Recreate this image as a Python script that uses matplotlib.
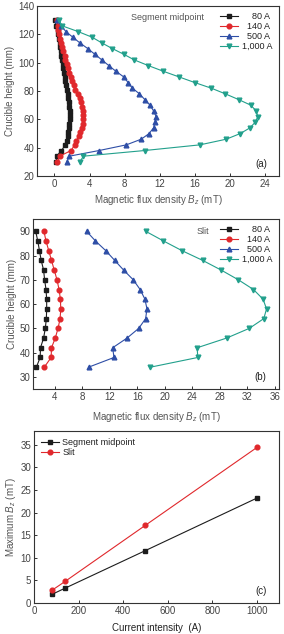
import numpy as np
import matplotlib
matplotlib.use("Agg")
from matplotlib import pyplot as plt

plt.rcParams['font.family'] = ['Liberation Sans', 'DejaVu Sans']
plt.rcParams['font.size'] = 7
plt.rcParams['mathtext.fontset'] = 'custom'
plt.rcParams['mathtext.it'] = 'Liberation Sans:italic'
plt.rcParams['mathtext.rm'] = 'Liberation Sans'

# ---- data ----
# figure spaces (U+2007) pad the short labels so they line up on the right
labels = ["\u2007\u200780 A", "\u2007140 A", "\u2007500 A", "1,000 A"]

# (a) segment midpoint
h_a_fine = [30, 34, 38, 42, 45, 48, 51, 54, 57, 60, 63, 66, 69, 72, 75, 78, 81,
            84, 87, 90, 93, 96, 99, 102, 105, 108, 111, 114, 117, 120, 123, 126, 130]
a_80 = [0.2, 0.25, 0.8, 1.25, 1.4, 1.5, 1.6, 1.65, 1.7, 1.75, 1.75, 1.75, 1.7, 1.65,
        1.55, 1.5, 1.4, 1.3, 1.25, 1.15, 1.1, 1.0, 0.95, 0.85, 0.8, 0.7, 0.65, 0.6,
        0.5, 0.45, 0.35, 0.2, 0.05]
a_140 = [0.3, 0.6, 1.9, 2.3, 2.5, 2.75, 2.95, 3.1, 3.2, 3.25, 3.25, 3.25, 3.15, 3.05,
         2.95, 2.7, 2.4, 2.2, 2.0, 1.85, 1.7, 1.55, 1.4, 1.25, 1.15, 1.0, 0.9, 0.8,
         0.65, 0.55, 0.45, 0.35, 0.3]
h_a_coarse = [30, 34, 38, 42, 46, 50, 54, 58, 62, 66, 70, 74, 78, 82, 86, 90, 94,
              98, 102, 106, 110, 114, 118, 122, 126, 130]
a_500 = [1.4, 1.7, 5.1, 8.2, 9.9, 10.8, 11.3, 11.5, 11.6, 11.3, 10.9, 10.3, 9.7, 8.9,
         8.4, 7.9, 7.0, 6.2, 5.4, 4.6, 3.8, 2.9, 2.1, 1.3, 0.8, 0.3]
a_1000 = [2.9, 3.3, 10.3, 16.6, 19.6, 21.2, 22.3, 22.9, 23.2, 23.0, 22.4, 21.0, 19.5,
          17.9, 16.0, 14.2, 12.4, 10.7, 9.1, 7.9, 6.6, 5.4, 4.3, 2.7, 0.9, 0.5]

# (b) slit
h_b = [34, 38, 42, 46, 50, 54, 58, 62, 66, 70, 74, 78, 82, 86, 90]
b_80 = [1.3, 1.85, 1.9, 2.35, 2.6, 2.75, 2.8, 2.8, 2.7, 2.5, 2.35, 2.0, 1.75, 1.5, 1.2]
b_140 = [2.45, 3.45, 3.5, 4.05, 4.45, 4.75, 4.85, 4.8, 4.6, 4.3, 3.9, 3.5, 3.1, 2.7, 2.4]
b_500 = [8.9, 12.6, 12.4, 14.5, 16.2, 17.2, 17.4, 17.1, 16.4, 15.4, 14.0, 12.7, 11.4, 9.9, 8.6]
b_1000 = [17.9, 24.8, 24.7, 29.0, 32.3, 34.4, 34.8, 34.3, 32.9, 30.7, 28.2, 25.5, 22.5, 19.8, 17.2]

# (c) maximum Bz
current = [80, 140, 500, 1000]
max_mid = [1.9, 3.3, 11.6, 23.2]
max_slit = [2.8, 4.8, 17.2, 34.4]

colors = ['#1c1c1c', '#e0282c', '#2e4ea6', '#22a08c']
markers = ['s', 'o', '^', 'v']
grey = '#555555'

fig = plt.figure(figsize=(2.84, 6.34), dpi=100)
ax_a = fig.add_axes([0.130, 0.7224, 0.852, 0.268])
ax_b = fig.add_axes([0.116, 0.3864, 0.866, 0.268])
ax_c = fig.add_axes([0.120, 0.0489, 0.863, 0.271])


def style(ax):
    for s in ax.spines.values():
        s.set_color('#333333')
        s.set_linewidth(0.8)
    ax.tick_params(direction='in', length=2.5, width=0.7, colors='#333333',
                   labelcolor='#444444', labelsize=7, pad=2)


# panel a
series_a = [(h_a_fine, a_80), (h_a_fine, a_140), (h_a_coarse, a_500), (h_a_coarse, a_1000)]
for (hh, vv), c, m, lab in zip(series_a, colors, markers, labels):
    ax_a.plot(vv, hh, color=c, marker=m, markersize=3.4, linewidth=0.8, label=lab)
ax_a.set_xlim(-2, 25.6)
ax_a.set_ylim(20, 140)
ax_a.set_xticks(np.arange(0, 25, 4))
ax_a.set_yticks(np.arange(20, 141, 20))
ax_a.set_xlabel(r'Magnetic flux density $B_z$ (mT)', color=grey, fontsize=7, labelpad=3)
ax_a.set_ylabel('Crucible height (mm)', color=grey, fontsize=7, labelpad=2)
ax_a.text(0.54, 0.93, 'Segment midpoint', transform=ax_a.transAxes, color=grey,
          fontsize=6.5, ha='center', va='center')
ax_a.text(0.95, 0.07, '(a)', transform=ax_a.transAxes, color='#222222',
          fontsize=7, ha='right', va='center')
ax_a.legend(loc='upper right', frameon=False, fontsize=6.5, handlelength=2.0,
            handletextpad=0.4, labelspacing=0.1, borderaxespad=0.3,
            labelcolor='#222222')
style(ax_a)

# panel b
series_b = [b_80, b_140, b_500, b_1000]
for vv, c, m, lab in zip(series_b, colors, markers, labels):
    ax_b.plot(vv, h_b, color=c, marker=m, markersize=3.4, linewidth=0.8, label=lab)
ax_b.set_xlim(0.8, 36.6)
ax_b.set_ylim(25, 95)
ax_b.set_xticks(np.arange(4, 37, 4))
ax_b.set_yticks(np.arange(30, 91, 10))
ax_b.set_xlabel(r'Magnetic flux density $B_z$ (mT)', color=grey, fontsize=7, labelpad=6)
ax_b.set_ylabel('Crucible height (mm)', color=grey, fontsize=7, labelpad=2)
ax_b.text(0.69, 0.93, 'Slit', transform=ax_b.transAxes, color=grey,
          fontsize=6.5, ha='center', va='center')
ax_b.text(0.95, 0.07, '(b)', transform=ax_b.transAxes, color='#222222',
          fontsize=7, ha='right', va='center')
ax_b.legend(loc='upper right', frameon=False, fontsize=6.5, handlelength=2.0,
            handletextpad=0.4, labelspacing=0.1, borderaxespad=0.3,
            labelcolor='#222222')
style(ax_b)

# panel c
ax_c.plot(current, max_mid, color=colors[0], marker='s', markersize=3.4,
          linewidth=0.8, label='Segment midpoint')
ax_c.plot(current, max_slit, color=colors[1], marker='o', markersize=3.4,
          linewidth=0.8, label='Slit')
ax_c.set_xlim(0, 1100)
ax_c.set_ylim(0, 38)
ax_c.set_xticks(np.arange(0, 1001, 200))
ax_c.set_yticks(np.arange(0, 36, 5))
ax_c.set_xlabel('Current intensity  (A)', color='#222222', fontsize=7, labelpad=5)
ax_c.set_ylabel(r'Maximum $B_z$ (mT)', color=grey, fontsize=7, labelpad=2)
ax_c.text(0.95, 0.07, '(c)', transform=ax_c.transAxes, color='#222222',
          fontsize=7, ha='right', va='center')
ax_c.legend(loc='upper left', frameon=False, fontsize=6.5, handlelength=2.0,
            handletextpad=0.3, labelspacing=0.1, borderaxespad=0.4,
            labelcolor='#222222')
style(ax_c)

fig.savefig('out.png', dpi=100)
